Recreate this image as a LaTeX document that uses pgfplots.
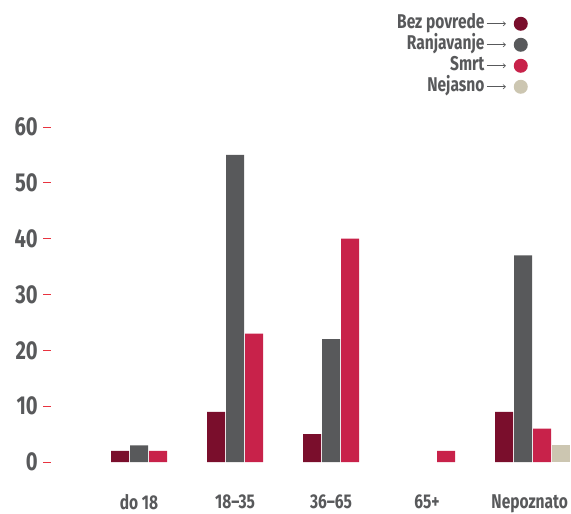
\documentclass[border=0pt]{standalone}
\usepackage{pgfplots}
\pgfplotsset{compat=1.18}
\usepackage{fontspec}
\setmainfont{Fira Sans}[FakeStretch=0.78, UprightFont={* Bold}, BoldFont={* Bold}]
\usetikzlibrary{arrows.meta}
\definecolor{bez}{HTML}{7A0E2C}
\definecolor{ranj}{HTML}{58595B}
\definecolor{smrt}{HTML}{C8224A}
\definecolor{nej}{HTML}{CCC6B1}
\definecolor{txt}{HTML}{58595B}
\definecolor{tk}{HTML}{E8333F}
\begin{document}
\begin{tikzpicture}
\useasboundingbox (-51bp,-52bp) rectangle (520bp,462bp);
\begin{axis}[
  scale only axis, width=520bp, height=335bp,
  xmin=-0.917, xmax=4.5, ymin=0, ymax=60,
  axis line style={draw=none},
  ybar, bar width=18bp,
  xtick={0,1,2,3,4.07},
  xticklabels={do 18, 18–35, 36–65, 65+, Nepoznato},
  ytick={0,10,...,60},
  ytick pos=left,
  tick align=outside,
  major tick length=8bp,
  xtick style={draw=none},
  ytick style={draw=tk, line width=0.8pt},
  yticklabel style={font=\fontsize{26}{26}\selectfont, text=txt, inner sep=0pt, xshift=-5bp},
  xticklabel style={font=\fontsize{20}{20}\selectfont, text=txt, yshift=-21bp},
  /pgf/number format/assume math mode=true,
  legend plot pos=right,
  legend cell align=right,
  legend style={at={(0.923,1.346)}, anchor=north east, draw=none, fill=none,
    font=\fontsize{20}{20}\selectfont, text=txt, row sep=0pt,
    nodes={text height=13bp, text depth=4bp, inner sep=2bp}},
  legend image code/.code={\draw[-{To[length=3bp,width=5bp]}, draw=txt, line width=0.6pt] (0bp,0bp) -- (19bp,0bp); \fill (34bp,0bp) circle (7bp);},
]
\addplot[fill=bez, draw=none, bar shift=-19bp] coordinates {(0,2) (1,9) (2,5) (4,9)};
\addlegendentry{Bez povrede}
\addplot[fill=ranj, draw=none, bar shift=0bp] coordinates {(0,3) (1,55) (2,22) (4,37)};
\addlegendentry{Ranjavanje}
\addplot[fill=smrt, draw=none, bar shift=19bp] coordinates {(0,2) (1,23) (2,40) (3,2) (4,6)};
\addlegendentry{Smrt}
\addplot[fill=nej, draw=none, bar shift=38bp] coordinates {(4,3)};
\addlegendentry{Nejasno}
\end{axis}
\end{tikzpicture}
\end{document}
